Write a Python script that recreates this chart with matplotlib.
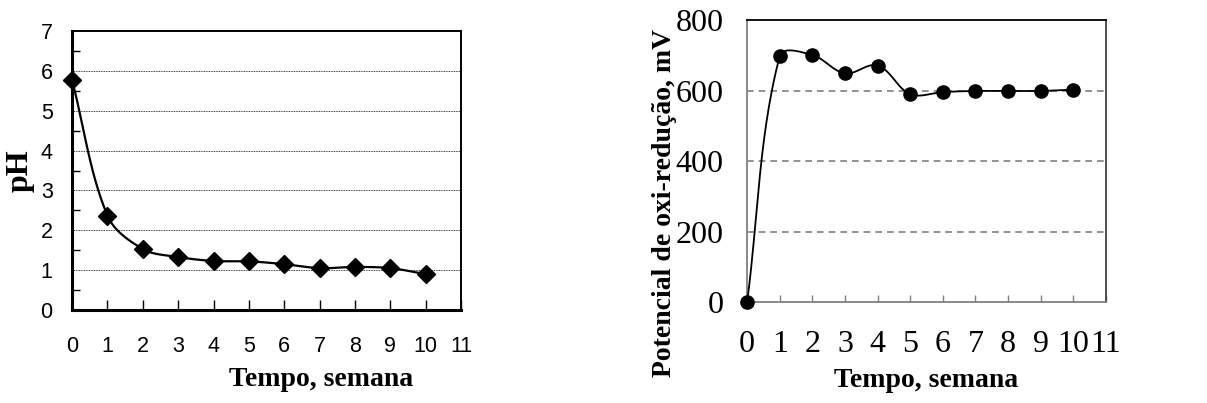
import numpy as np
import matplotlib
matplotlib.use("Agg")
import matplotlib.pyplot as plt
from matplotlib.ticker import MultipleLocator

semanas = list(range(11))
ph = [5.77, 2.37, 1.53, 1.33, 1.23, 1.22, 1.15, 1.05, 1.08, 1.05, 0.90]
orp_mv = [0, 698, 701, 649, 671, 590, 596, 599, 599, 599, 603]

ph_yticks = list(range(8))
orp_yticks = [0, 200, 400, 600, 800]
xticks = list(range(12))

SERIF = "Liberation Serif"
SANS = "Liberation Sans"


def smooth_curve(ax, x, y, tension=0.5, n=30):
    """Excel-like smoothed line, built in screen space so tangents are capped by segment length."""
    pts = ax.transData.transform(np.column_stack([x, y]))
    ext = np.vstack([pts[0], pts, pts[-1]])
    t = np.linspace(0, 1, n)[:, None]
    out = []
    for i in range(1, len(ext) - 2):
        p0, p3 = ext[i], ext[i + 1]
        seg_len = np.hypot(*(p3 - p0))
        d1 = ext[i + 1] - ext[i - 1]
        d2 = ext[i + 2] - ext[i]
        d1 = d1 / (np.hypot(*d1) or 1.0)
        d2 = d2 / (np.hypot(*d2) or 1.0)
        p1 = p0 + d1 * seg_len * tension / 1.5
        p2 = p3 - d2 * seg_len * tension / 1.5
        out.append((1 - t) ** 3 * p0 + 3 * (1 - t) ** 2 * t * p1
                   + 3 * (1 - t) * t ** 2 * p2 + t ** 3 * p3)
    data = ax.transData.inverted().transform(np.vstack(out))
    return data[:, 0], data[:, 1]


fig = plt.figure(figsize=(12.07, 4.03), dpi=100)

# left: pH
ax1 = fig.add_axes([0.0597, 0.2308, 0.3223, 0.6922])
ax1.set_xlim(0, 11)
ax1.set_ylim(0, 7)
sx, sy = smooth_curve(ax1, semanas, ph)
ax1.plot(sx, sy, color="black", lw=1.6, zorder=3)
ax1.plot(semanas, ph, ls="none", marker="D", ms=9, color="black", zorder=4, clip_on=False)
ax1.set_xticks(xticks)
ax1.set_yticks(ph_yticks)
ax1.yaxis.set_minor_locator(MultipleLocator(0.5))
for y in range(1, 7):
    ax1.axhline(y, color="black", lw=0.6, ls=(0, (1, 1)), zorder=1)
for name, sp in ax1.spines.items():
    sp.set_color("black")
    sp.set_linewidth(2.2 if name in ("left", "bottom") else 1.4)
ax1.tick_params(axis="x", direction="in", length=7, width=1, pad=19, labelsize=15.5)
ax1.tick_params(axis="y", which="major", direction="in", length=0, pad=14, labelsize=15.5)
ax1.tick_params(axis="y", which="minor", direction="in", length=6, width=1)
for lab in ax1.get_xticklabels() + ax1.get_yticklabels():
    lab.set_fontfamily(SANS)
ax1.set_xlabel("Tempo, semana", fontfamily=SERIF, fontweight="bold", fontsize=20)
ax1.xaxis.set_label_coords(0.64, -0.205)
ax1.set_ylabel("pH", fontfamily=SERIF, fontweight="bold", fontsize=23)
ax1.yaxis.set_label_coords(-0.095, 0.5)

# right: potencial de oxi-redução
ax2 = fig.add_axes([0.619, 0.2506, 0.2973, 0.6994])
ax2.set_xlim(0, 11)
ax2.set_ylim(0, 800)
sx, sy = smooth_curve(ax2, semanas, orp_mv)
ax2.plot(sx, sy, color="black", lw=1.3, zorder=3)
ax2.plot(semanas, orp_mv, ls="none", marker="o", ms=9.5, color="black", zorder=4, clip_on=False)
ax2.set_xticks(xticks)
ax2.set_yticks(orp_yticks)
for y in (200, 400, 600):
    ax2.axhline(y, color="#808080", lw=1.2, ls=(0, (4, 3)), zorder=1)
ax2.spines["left"].set_color("#808080")
ax2.spines["bottom"].set_color("#808080")
ax2.spines["top"].set_color("black")
ax2.spines["right"].set_color("#404040")
for sp in ax2.spines.values():
    sp.set_linewidth(1.3)
ax2.tick_params(axis="x", direction="in", length=5, width=1, color="#808080", pad=20, labelsize=23)
ax2.tick_params(axis="y", direction="out", length=0, pad=17, labelsize=23)
for lab in ax2.get_xticklabels() + ax2.get_yticklabels():
    lab.set_fontfamily(SERIF)
ax2.set_xlabel("Tempo, semana", fontfamily=SERIF, fontweight="bold", fontsize=20)
ax2.xaxis.set_label_coords(0.5, -0.235)
ax2.set_ylabel("Potencial de oxi-redução, mV", fontfamily=SERIF, fontweight="bold", fontsize=20)
ax2.yaxis.set_label_coords(-0.195, 0.35)

fig.savefig("out.png", dpi=100)
